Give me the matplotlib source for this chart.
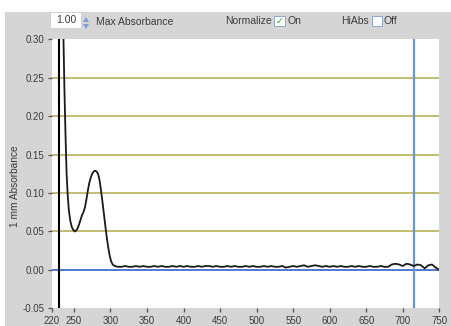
import matplotlib
matplotlib.use("Agg")
import matplotlib.pyplot as plt
from matplotlib.patches import Rectangle, Polygon

plt.rcParams['font.family'] = ['Liberation Sans', 'DejaVu Sans']

# Absorption band region: wavelength (nm) and 1 mm absorbance
band_wavelength = [234, 235.5, 237, 238.5, 240, 241.5, 243, 245, 247, 249, 251,
                   253, 255, 257, 259, 261, 263, 265, 267, 269, 271, 273, 275,
                   277, 279, 281, 283, 285, 287, 289, 291, 293, 295, 297, 299,
                   301, 303, 306, 310]
band_absorbance = [0.42, 0.31, 0.235, 0.175, 0.125, 0.097, 0.078, 0.064, 0.056,
                   0.052, 0.050, 0.051, 0.054, 0.059, 0.065, 0.071, 0.075, 0.081,
                   0.091, 0.103, 0.113, 0.120, 0.125, 0.128, 0.129, 0.128, 0.125,
                   0.117, 0.104, 0.089, 0.073, 0.057, 0.042, 0.029, 0.018, 0.011,
                   0.007, 0.005, 0.004]

# Baseline region sampled every 5 nm from 315 to 750 nm
baseline_wavelength = list(range(315, 755, 5))
baseline_absorbance = [
    0.004, 0.005, 0.004, 0.004, 0.005, 0.004, 0.005, 0.004, 0.004, 0.005,
    0.004, 0.005, 0.004, 0.004, 0.005, 0.004, 0.005, 0.004, 0.005, 0.004,
    0.004, 0.005, 0.004, 0.005, 0.005, 0.004, 0.005, 0.004, 0.004, 0.005,
    0.004, 0.005, 0.004, 0.004, 0.005, 0.004, 0.005, 0.004, 0.004, 0.005,
    0.004, 0.005, 0.004, 0.004, 0.005, 0.003, 0.004, 0.005, 0.004, 0.005,
    0.006, 0.004, 0.005, 0.006, 0.005, 0.004, 0.005, 0.004, 0.005, 0.004,
    0.005, 0.004, 0.004, 0.005, 0.004, 0.005, 0.004, 0.004, 0.005, 0.004,
    0.004, 0.005, 0.004, 0.004, 0.007, 0.008, 0.007, 0.005, 0.008, 0.007,
    0.005, 0.007, 0.006, 0.002, 0.006, 0.007, 0.003, 0.000]

wavelength = band_wavelength + baseline_wavelength
absorbance = band_absorbance + baseline_absorbance

x_ticks = [220, 250, 300, 350, 400, 450, 500, 550, 600, 650, 700, 750]
y_ticks = [-0.05, 0.00, 0.05, 0.10, 0.15, 0.20, 0.25, 0.30]
y_ticklabels = ["-0.05", "0.00", "0.05", "0.10", "0.15", "0.20", "0.25", "0.30"]
grid_levels = [0.05, 0.10, 0.15, 0.20, 0.25]
cursor_left = 229
cursor_right = 715.5

W, H = 451, 326
fig = plt.figure(figsize=(W / 100, H / 100), dpi=100, facecolor='white')

# gray control panel behind everything
panel_col = '#d5d5d5'
fig.patches.append(Rectangle((5 / W, 0), 1 - 5 / W, 1 - 12 / H,
                             transform=fig.transFigure, facecolor=panel_col,
                             edgecolor='none', zorder=-10))

ax = fig.add_axes([52 / W, 1 - 308.3 / H, 387.3 / W, 269 / H])
ax.set_zorder(5)
ax.set_facecolor('white')
ax.set_xlim(220, 750)
ax.set_ylim(-0.05, 0.30)

for lvl in grid_levels:
    ax.axhline(lvl, color='#bdb867', lw=1.3, zorder=1)
ax.axhline(0.0, color='#2f62c6', lw=1.2, zorder=2)
ax.axvline(cursor_left, color='black', lw=1.5, zorder=3)
ax.axvline(cursor_right, color='#6e93d2', lw=1.6, zorder=3)

ax.plot(wavelength, absorbance, color='#1a1a1a', lw=1.3, zorder=4,
        solid_joinstyle='round')

for s in ax.spines.values():
    s.set_visible(False)

ax.set_xticks(x_ticks)
ax.set_xticklabels([str(t) for t in x_ticks])
ax.set_yticks(y_ticks)
ax.set_yticklabels(y_ticklabels)
ax.tick_params(axis='both', labelsize=7, colors='#505050', labelcolor='#3c3c3c',
               length=3, width=0.9)
ax.tick_params(axis='x', pad=2.5)
ax.tick_params(axis='y', pad=2.5)

fig.text(15 / W, 1 - 186 / H, "1 mm Absorbance", rotation=90, ha='center',
         va='center', fontsize=7.3, color='#3c3c3c')

# top controls
def box(x0, y0, x1, y1, fc='white', ec='#9aa6b8'):
    fig.patches.append(Rectangle((x0 / W, 1 - y1 / H), (x1 - x0) / W, (y1 - y0) / H,
                                 transform=fig.transFigure, facecolor=fc,
                                 edgecolor=ec, lw=0.6, zorder=1))

box(50, 12, 81, 28, ec='#c8d0dc')
fig.text(66 / W, 1 - 20 / H, "1.00", ha='center', va='center', fontsize=7.5,
         color='#3c3c3c')
# spinner arrows
for pts in [[(83, 22), (89, 22), (86, 17)], [(83, 24), (89, 24), (86, 29)]]:
    fig.patches.append(Polygon([(px / W, 1 - py / H) for px, py in pts],
                               closed=True, transform=fig.transFigure,
                               facecolor='#7aa0d8', edgecolor='none', zorder=2))
fig.text(96 / W, 1 - 22 / H, "Max Absorbance", ha='left', va='center',
         fontsize=7.5, color='#3c3c3c')

fig.text(225 / W, 1 - 21 / H, "Normalize", ha='left', va='center',
         fontsize=7.5, color='#3c3c3c')
box(274, 16, 285, 26, ec='#7f9cc8')
fig.text(279.5 / W, 1 - 21 / H, "\u2713", ha='center', va='center',
         fontsize=6.5, color='#2aa02a', family=['DejaVu Sans'])
fig.text(288 / W, 1 - 21 / H, "On", ha='left', va='center',
         fontsize=7.5, color='#3c3c3c')

fig.text(341 / W, 1 - 21 / H, "HiAbs", ha='left', va='center',
         fontsize=7.5, color='#3c3c3c')
box(372, 16, 382, 26, ec='#7f9cc8')
fig.text(384 / W, 1 - 21 / H, "Off", ha='left', va='center',
         fontsize=7.5, color='#3c3c3c')

fig.savefig("out.png", dpi=100, facecolor=fig.get_facecolor())
